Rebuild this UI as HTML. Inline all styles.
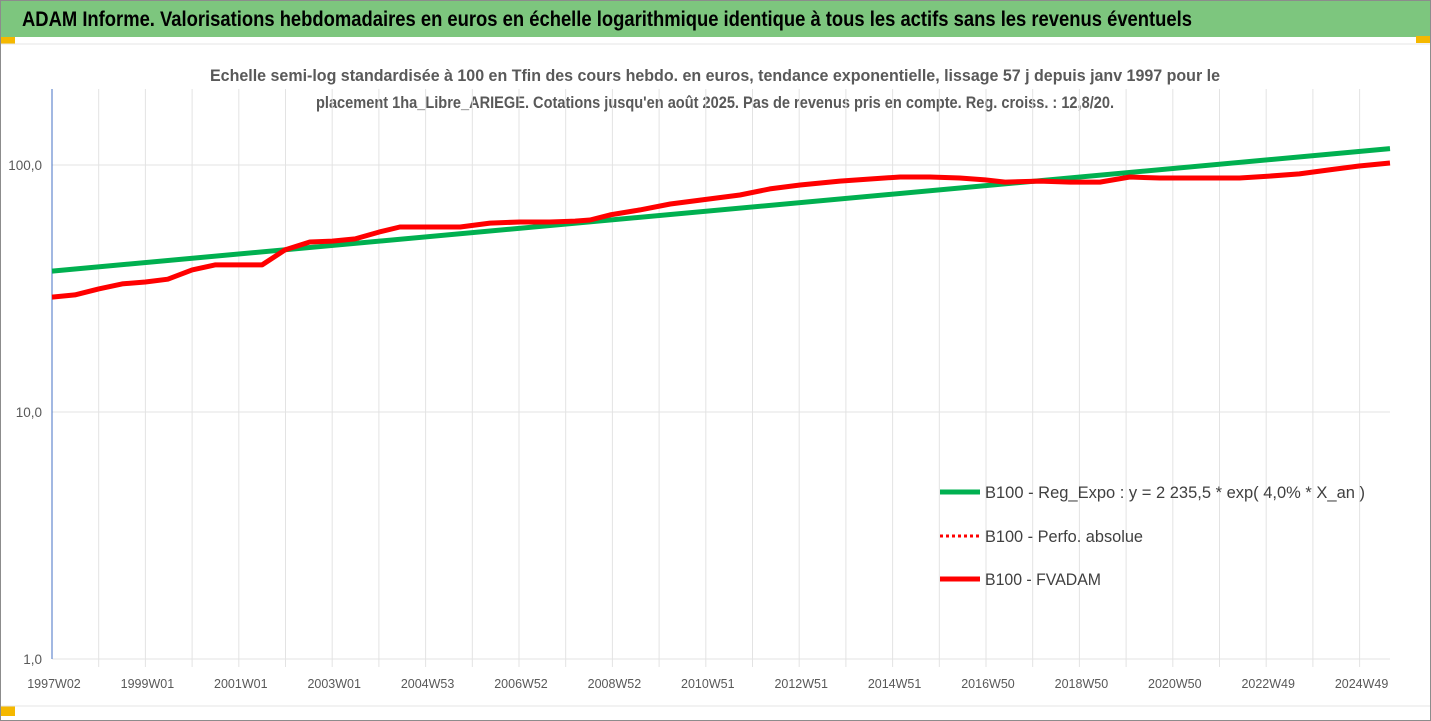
<!DOCTYPE html>
<html><head><meta charset="utf-8">
<style>
body{margin:0;width:1431px;height:721px;overflow:hidden;background:#fff;font-family:"Liberation Sans",sans-serif;}
</style></head>
<body>
<svg width="1431" height="721" style="position:absolute;left:0;top:0">
<rect x="0.5" y="0.5" width="1430" height="720" fill="#fff" stroke="#8c8c8c"/>
<rect x="1" y="1" width="1429" height="36" fill="#7dc67e"/>
<text x="22" y="26" font-size="21" font-weight="bold" fill="#000" textLength="1170" lengthAdjust="spacingAndGlyphs">ADAM Informe. Valorisations hebdomadaires en euros en échelle logarithmique identique à tous les actifs sans les revenus éventuels</text>
<rect x="1" y="37" width="14" height="7" fill="#f5b800"/>
<rect x="1416" y="36" width="14" height="7" fill="#f5b800"/>
<rect x="1" y="706" width="14" height="10" fill="#f5b800"/>
<line x1="1" y1="44" x2="1430" y2="44" stroke="#e4e4e4"/>
<line x1="1" y1="706" x2="1430" y2="706" stroke="#e4e4e4"/>
<text x="715" y="81" font-size="17" font-weight="bold" fill="#595959" text-anchor="middle" textLength="1010" lengthAdjust="spacingAndGlyphs">Echelle semi-log standardisée à 100 en Tfin des cours hebdo. en euros, tendance exponentielle, lissage 57 j depuis janv 1997 pour le</text>
<text x="715" y="108" font-size="17" font-weight="bold" fill="#595959" text-anchor="middle" textLength="798" lengthAdjust="spacingAndGlyphs">placement 1ha_Libre_ARIEGE. Cotations jusqu'en août 2025.  Pas de revenus pris en compte. Reg. croiss. : 12,8/20.</text>
<g id="grid"></g>
<g id="series"></g>
<g id="legend">
<line x1="940" y1="492" x2="980" y2="492" stroke="#00b050" stroke-width="5"/>
<text x="985" y="498" font-size="17" fill="#404040" textLength="380" lengthAdjust="spacingAndGlyphs">B100 - Reg_Expo : y = 2 235,5 * exp( 4,0% *  X_an )</text>
<line x1="940" y1="536" x2="980" y2="536" stroke="#ff0000" stroke-width="3" stroke-dasharray="3,3"/>
<text x="985" y="542" font-size="17" fill="#404040" textLength="158" lengthAdjust="spacingAndGlyphs">B100 - Perfo. absolue</text>
<line x1="940" y1="579" x2="980" y2="579" stroke="#ff0000" stroke-width="5"/>
<text x="985" y="585" font-size="17" fill="#404040" textLength="116" lengthAdjust="spacingAndGlyphs">B100 - FVADAM</text>
</g>
</svg>
<script>
const xLabels=["1997W02","1999W01","2001W01","2003W01","2004W53","2006W52","2008W52","2010W51","2012W51","2014W51","2016W50","2018W50","2020W50","2022W49","2024W49"];
const yTicks=[1,10,100];
const yTickLabels=["1,0","10,0","100,0"];
const trendT=[0,28.65];
const trendV=[37.2,116.5];
const fvT=[0,0.49,1,1.5,2,2.48,3,3.49,4,4.5,4.99,5.52,6,6.49,7,7.45,8,8.74,9.38,10.02,10.66,11.2,11.52,11.95,12.59,13.24,13.88,14.73,15.37,16.02,16.87,17.52,18.16,18.8,19.44,19.98,20.41,21.16,21.8,22.44,23.08,23.72,24.15,25.43,26.07,26.71,27.35,27.99,28.65];
const fvV=[29.2,29.8,31.5,33.0,33.6,34.5,37.6,39.4,39.4,39.4,45.3,48.8,49.2,50.2,53.5,56.1,56.1,56.1,58.2,58.8,58.8,59.3,59.9,62.8,65.8,69.5,72.1,75.6,80.0,83.0,86.1,87.8,89.4,89.4,88.6,87.0,85.3,86.1,85.3,85.3,89.4,88.6,88.6,88.6,90.2,92.0,95.5,99.1,101.9];
const X0=52,XS=46.7,Y1=659,DEC=247,TOP=89,RIGHT=1390;
const xs=t=>X0+t*XS;
const ys=v=>Y1-Math.log10(v)*DEC;
const NS="http://www.w3.org/2000/svg";
const grid=document.getElementById('grid'),series=document.getElementById('series');
function mk(tag,attrs,parent){const e=document.createElementNS(NS,tag);for(const k in attrs)e.setAttribute(k,attrs[k]);parent.appendChild(e);return e;}
for(let i=1;i<=28;i++){
 const g=mk('line',{x1:xs(i),x2:xs(i),y1:TOP,y2:Y1+8,stroke:'#e3e3e3'},grid);
 
 
}
yTicks.forEach((v,i)=>{
 const l=mk('line',{x1:X0,x2:RIGHT,y1:ys(v),y2:ys(v),stroke:'#e3e3e3'},grid);
 
 
 const t=mk('text',{x:42,y:ys(v)+5,'font-size':13.5,fill:'#595959','text-anchor':'end'},grid);
 t.textContent=yTickLabels[i];
 
 
});
const ax=mk('line',{x1:X0,x2:X0,y1:TOP,y2:Y1,stroke:'#4472c4','stroke-width':1},grid);


xLabels.forEach((s,i)=>{
 const t=mk('text',{x:xs(i*2)+2,y:688,'font-size':12.5,fill:'#595959','text-anchor':'middle'},grid);
 t.textContent=s;
 
 
});
function path(T,V){return T.map((t,i)=>(i?'L':'M')+xs(t).toFixed(1)+','+ys(V[i]).toFixed(1)).join(' ');}
const gl=mk('path',{d:path(trendT,trendV),fill:'none',stroke:'#00b050','stroke-width':5},series);


const rl=mk('path',{d:path(fvT,fvV),fill:'none',stroke:'#ff0000','stroke-width':5,'stroke-linejoin':'round'},series);


</script>
</body></html>
